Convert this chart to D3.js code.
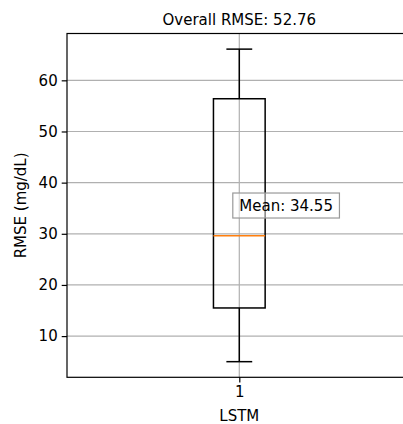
<!DOCTYPE html>
<html>
<head>
<meta charset="utf-8">
<script src="https://cdn.jsdelivr.net/npm/d3@7"></script>
<style>
  body { margin: 0; background: #fff; }
  text { font-family: "DejaVu Sans", sans-serif; fill: #000; }
</style>
</head>
<body>
<div id="chart"></div>
<script>
// data
var models = ["LSTM"];
var positions = [1];
var whiskerLow = [5.0];
var q1 = [15.5];
var median = [29.6];
var q3 = [56.4];
var whiskerHigh = [66.1];
var means = [34.55];
var overallRmse = 52.76;
var yTicks = [10, 20, 30, 40, 50, 60];

var w = 403, h = 424;
var mLeft = 67, mRight = 411.6, mTop = 33.5, mBottom = 377.3;
var fs = 15;

var svg = d3.select("#chart").append("svg")
  .attr("width", w).attr("height", h);

var x = d3.scaleLinear().domain([0.5, 1.5]).range([mLeft, mRight]);
var y = d3.scaleLinear().domain([1.945, 69.155]).range([mBottom, mTop]);

// grid
var grid = svg.append("g");
grid.selectAll(".hg").data(yTicks).enter().append("line")
  .attr("x1", mLeft).attr("x2", mRight)
  .attr("y1", function(d) { return y(d); })
  .attr("y2", function(d) { return y(d); })
  .style("stroke", "#b0b0b0").style("stroke-width", 1.2);
grid.selectAll(".vg").data(positions).enter().append("line")
  .attr("x1", function(d) { return x(d); })
  .attr("x2", function(d) { return x(d); })
  .attr("y1", mTop).attr("y2", mBottom)
  .style("stroke", "#b0b0b0").style("stroke-width", 1.2);

// boxes
var bw = 0.15;
var boxes = svg.selectAll(".box").data(models).enter().append("g");
boxes.each(function(d, i) {
  var g = d3.select(this);
  var p = positions[i];
  var line = function(x1, y1, x2, y2, col) {
    g.append("line").attr("x1", x1).attr("y1", y1).attr("x2", x2).attr("y2", y2)
      .style("stroke", col || "#000").style("stroke-width", 1.5);
  };
  // whiskers
  line(x(p), y(q3[i]), x(p), y(whiskerHigh[i]));
  line(x(p), y(q1[i]), x(p), y(whiskerLow[i]));
  // caps
  line(x(p - bw / 4), y(whiskerHigh[i]), x(p + bw / 4), y(whiskerHigh[i]));
  line(x(p - bw / 4), y(whiskerLow[i]), x(p + bw / 4), y(whiskerLow[i]));
  g.append("rect")
    .attr("x", x(p - bw / 2)).attr("y", y(q3[i]))
    .attr("width", x(p + bw / 2) - x(p - bw / 2))
    .attr("height", y(q1[i]) - y(q3[i]))
    .style("fill", "none").style("stroke", "#000").style("stroke-width", 1.5);
  line(x(p - bw / 2), y(median[i]), x(p + bw / 2), y(median[i]), "#ff7f0e");

  // mean label
  var lab = g.append("g");
  var tx = lab.append("text")
    .attr("x", x(p)).attr("y", y(means[i]))
    .style("font-size", fs + "px")
    .text("Mean: " + means[i].toFixed(2));
  var bb = tx.node().getBBox();
  var pad = 4.5;
  lab.insert("rect", "text")
    .attr("x", bb.x - pad - 2).attr("y", bb.y - pad + 1)
    .attr("width", bb.width + 2 * pad + 4).attr("height", bb.height + 2 * pad - 2)
    .style("fill", "#fff").style("fill-opacity", 0.5)
    .style("stroke", "#999").style("stroke-width", 1.2);
});

// axes frame
svg.append("rect")
  .attr("x", mLeft).attr("y", mTop)
  .attr("width", mRight - mLeft).attr("height", mBottom - mTop)
  .style("fill", "none").style("stroke", "#000").style("stroke-width", 1.2);

var yAxis = d3.axisLeft(y).tickValues(yTicks).tickSize(5.3).tickPadding(4);
svg.append("g").attr("transform", "translate(" + mLeft + ",0)").call(yAxis)
  .call(function(g) { g.select(".domain").remove(); })
  .call(function(g) {
    g.selectAll("line").style("stroke", "#000").style("stroke-width", 1.2);
    g.selectAll("text").style("font-size", fs + "px").style("font-family", "DejaVu Sans");
  });

var xAxis = d3.axisBottom(x).tickValues(positions).tickFormat(d3.format("d"))
  .tickSize(5.3).tickPadding(4);
svg.append("g").attr("transform", "translate(0," + mBottom + ")").call(xAxis)
  .call(function(g) { g.select(".domain").remove(); })
  .call(function(g) {
    g.selectAll("line").style("stroke", "#000").style("stroke-width", 1.2);
    g.selectAll("text").style("font-size", fs + "px").style("font-family", "DejaVu Sans");
  });

// labels
svg.append("text")
  .attr("x", (mLeft + mRight) / 2).attr("y", 25)
  .attr("text-anchor", "middle").style("font-size", fs + "px")
  .text("Overall RMSE: " + overallRmse.toFixed(2));

svg.append("text")
  .attr("x", x(1)).attr("y", 421)
  .attr("text-anchor", "middle").style("font-size", fs + "px")
  .text(models[0]);

svg.append("text")
  .attr("transform", "translate(26," + (mTop + mBottom) / 2 + ") rotate(-90)")
  .attr("text-anchor", "middle").style("font-size", fs + "px")
  .text("RMSE (mg/dL)");
</script>
</body>
</html>
